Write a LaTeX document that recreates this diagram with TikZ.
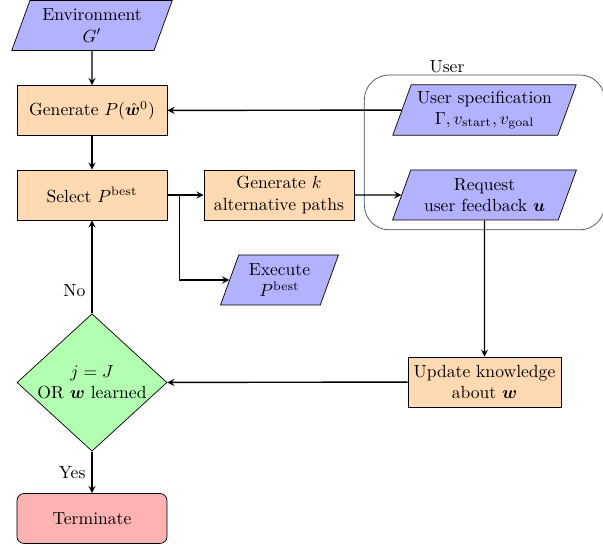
\documentclass[tikz,border=0pt]{standalone}
\usepackage{amsmath}
\usepackage{bm}
\usetikzlibrary{calc, arrows, shapes.geometric, fit}

\begin{document}
\begin{tikzpicture}[
    startstop/.style={rectangle, rounded corners, minimum width=3cm, minimum height=1cm, align=center, draw=black, fill=red!30},
    io/.style={trapezium, trapezium left angle=70, trapezium right angle=110, minimum height=1cm, align=center, draw=black, fill=blue!30},
    process/.style={rectangle, minimum width=3cm, minimum height=1cm, align=center, draw=black, fill=orange!30},
    decision/.style={diamond, aspect=1.05, inner sep=0pt, minimum width=3cm, minimum height=1cm, align=center, draw=black, fill=green!30},
    arrow/.style={thick, ->, >=stealth}]
    \useasboundingbox (0,0) rectangle (12.06,-10.98);

    \node[io] (env) at (1.84,-0.51) {Environment\\ $G'$};
    \node[process] (genp) at (1.84,-2.21) {Generate $P(\hat{\bm{w}}^0)$};
    \node[process] (select) at (1.84,-3.90) {Select $P^{\text{best}}$};
    \node[process] (genk) at (5.58,-3.90) {Generate $k$\\ alternative paths};
    \node[io] (userspec) at (9.69,-2.20) {User specification\\ $\Gamma, v_{\text{start}}, v_{\text{goal}}$};
    \node[io] (request) at (9.69,-3.90) {Request\\ user feedback $\bm{u}$};
    \node[io] (execute) at (5.59,-5.60) {Execute\\ $P^{\text{best}}$};
    \node[decision] (check) at (1.84,-7.65) {$j = J$\\ OR $\bm{w}$ learned};
    \node[process] (update) at (9.69,-7.64) {Update knowledge\\ about $\bm{w}$};
    \node[startstop] (term) at (1.84,-10.37) {Terminate};

    %使用者區塊
    \node[draw=black!70, rounded corners=0.5cm, fit=(userspec)(request), inner xsep=0.74cm, inner ysep=0.19cm] (user) {};
    \node (userlabel) at (8.94,-1.34) {User};

    \draw[arrow] (env) -- (genp);
    \draw[arrow] (genp) -- (select);
    \draw[arrow] (select) -- (genk);
    \coordinate (branch) at ($(select.east)+(0.24,0)$);
    \draw[arrow] (branch) |- (execute);
    \draw[arrow] (genk) -- (request);
    \draw[arrow] (userspec) -- (genp);
    \draw[arrow] (request) -- (update);
    \draw[arrow] (update) -- (check);
    \draw[arrow] (check) -- node[near start, left]{No} (select);
    \draw[arrow] (check) -- node[left]{Yes} (term);
\end{tikzpicture}
\end{document}
